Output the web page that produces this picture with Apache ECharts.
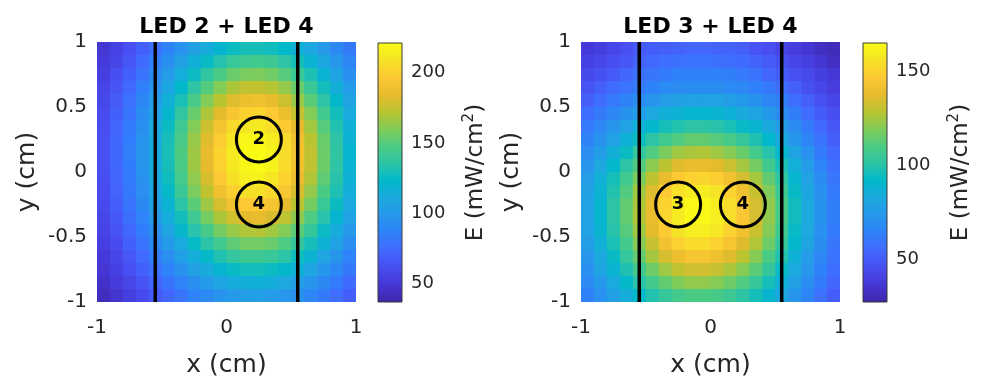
<!DOCTYPE html>
<html>
<head>
<meta charset="utf-8">
<title>LED irradiance maps</title>
<script src="https://cdn.jsdelivr.net/npm/echarts@6/dist/echarts.min.js"></script>
<style>
  html, body { margin: 0; padding: 0; background: #ffffff; }
  #chart { width: 984px; height: 382px; }
</style>
</head>
<body>
<div id="chart"></div>
<script>
// Cell centres (cm) of the irradiance grid
const xCells = [-0.95, -0.85, -0.75, -0.65, -0.55, -0.45, -0.35, -0.25, -0.15, -0.05,
                 0.05,  0.15,  0.25,  0.35,  0.45,  0.55,  0.65,  0.75,  0.85,  0.95];
const yCells = [ 0.95,  0.85,  0.75,  0.65,  0.55,  0.45,  0.35,  0.25,  0.15,  0.05,
                -0.05, -0.15, -0.25, -0.35, -0.45, -0.55, -0.65, -0.75, -0.85, -0.95];

// Irradiance E (mW/cm^2), one row per yCells entry, one column per xCells entry
const fieldLed24 = [
  [49, 55, 62, 70, 78, 87, 96, 105, 113, 120, 126, 129, 129, 127, 123, 116, 109, 100, 91, 82],
  [52, 58, 66, 75, 85, 95, 105, 116, 125, 133, 140, 143, 144, 142, 136, 129, 119, 109, 99, 89],
  [54, 62, 70, 80, 91, 102, 114, 126, 137, 147, 154, 158, 159, 156, 150, 141, 131, 119, 107, 95],
  [57, 65, 74, 85, 97, 109, 123, 136, 149, 160, 169, 174, 174, 171, 164, 154, 141, 128, 115, 102],
  [59, 68, 78, 89, 102, 116, 130, 146, 160, 172, 182, 188, 189, 185, 177, 165, 151, 136, 122, 107],
  [61, 70, 80, 93, 106, 121, 137, 154, 169, 183, 194, 201, 202, 197, 188, 175, 160, 144, 128, 112],
  [62, 72, 83, 95, 110, 126, 143, 160, 177, 192, 204, 211, 212, 207, 197, 184, 167, 150, 132, 116],
  [63, 73, 84, 97, 112, 129, 146, 165, 182, 198, 210, 218, 219, 214, 204, 189, 172, 154, 136, 118],
  [63, 73, 85, 98, 113, 130, 148, 166, 185, 201, 213, 220, 222, 217, 206, 191, 174, 155, 137, 120],
  [63, 73, 84, 98, 113, 129, 147, 166, 184, 200, 212, 219, 221, 216, 205, 190, 173, 155, 136, 119],
  [62, 72, 83, 96, 111, 127, 145, 163, 180, 196, 208, 215, 216, 211, 201, 187, 170, 152, 134, 117],
  [61, 71, 82, 94, 108, 124, 141, 158, 174, 189, 200, 207, 208, 203, 194, 180, 164, 147, 131, 114],
  [60, 69, 80, 91, 105, 119, 135, 151, 166, 180, 190, 196, 197, 193, 184, 172, 157, 141, 126, 111],
  [58, 67, 77, 88, 100, 114, 128, 143, 157, 169, 178, 184, 185, 181, 173, 162, 148, 134, 120, 106],
  [56, 64, 73, 84, 95, 108, 121, 134, 146, 157, 165, 170, 171, 167, 160, 151, 139, 126, 113, 100],
  [54, 61, 70, 79, 90, 101, 112, 124, 135, 144, 152, 156, 156, 154, 148, 139, 129, 117, 106, 94],
  [51, 58, 66, 75, 84, 94, 104, 114, 124, 132, 138, 142, 142, 140, 135, 127, 118, 108, 98, 88],
  [49, 55, 62, 70, 78, 87, 96, 105, 113, 120, 125, 128, 128, 126, 122, 116, 108, 99, 90, 82],
  [46, 52, 58, 65, 72, 80, 88, 95, 102, 108, 113, 115, 116, 114, 110, 105, 98, 91, 83, 75],
  [43, 48, 54, 60, 67, 73, 80, 87, 92, 97, 101, 103, 104, 102, 99, 95, 89, 83, 76, 69]
];

const fieldLed34 = [
  [38, 40, 43, 46, 50, 51, 52, 53, 54, 54, 53, 53, 52, 48, 46, 42, 39, 36, 33, 31],
  [41, 43, 46, 49, 53, 55, 57, 58, 59, 59, 58, 57, 56, 53, 50, 47, 43, 40, 36, 33],
  [44, 47, 50, 54, 58, 60, 62, 64, 64, 64, 64, 63, 61, 59, 54, 51, 47, 44, 40, 37],
  [48, 52, 56, 59, 62, 65, 68, 69, 70, 70, 70, 68, 67, 64, 61, 57, 52, 47, 43, 39],
  [52, 57, 61, 65, 69, 73, 76, 78, 79, 79, 79, 77, 75, 72, 67, 63, 57, 52, 47, 43],
  [57, 62, 67, 72, 77, 82, 86, 88, 90, 90, 89, 87, 84, 80, 75, 69, 63, 56, 51, 46],
  [61, 67, 73, 79, 86, 91, 96, 99, 101, 101, 100, 97, 93, 89, 83, 76, 69, 62, 55, 49],
  [65, 72, 79, 87, 94, 101, 107, 111, 114, 114, 112, 109, 104, 98, 91, 83, 74, 66, 59, 52],
  [69, 77, 86, 94, 103, 111, 118, 124, 126, 127, 124, 120, 115, 108, 100, 90, 80, 71, 62, 55],
  [73, 82, 91, 101, 111, 121, 129, 136, 139, 139, 137, 132, 125, 117, 107, 97, 86, 76, 66, 58],
  [76, 86, 96, 107, 118, 129, 139, 147, 150, 151, 148, 142, 134, 125, 114, 102, 90, 79, 69, 60],
  [78, 88, 99, 111, 124, 136, 147, 155, 159, 159, 156, 150, 141, 131, 119, 106, 93, 81, 71, 62],
  [79, 90, 101, 114, 126, 139, 150, 159, 164, 164, 160, 154, 145, 134, 122, 109, 95, 83, 72, 63],
  [79, 90, 101, 114, 127, 139, 151, 159, 164, 164, 160, 154, 145, 134, 122, 109, 95, 83, 72, 63],
  [79, 89, 100, 112, 124, 137, 147, 156, 160, 160, 157, 150, 142, 132, 120, 107, 93, 82, 71, 62],
  [77, 86, 97, 108, 120, 131, 142, 149, 153, 153, 150, 144, 136, 127, 116, 104, 91, 80, 70, 60],
  [74, 83, 93, 104, 114, 125, 134, 140, 144, 144, 141, 136, 129, 120, 110, 99, 87, 76, 67, 59],
  [71, 80, 89, 98, 107, 116, 124, 130, 133, 133, 131, 126, 120, 113, 104, 93, 83, 74, 64, 57],
  [68, 75, 83, 92, 100, 108, 114, 119, 122, 122, 120, 116, 111, 104, 96, 87, 78, 69, 62, 54],
  [64, 71, 78, 85, 92, 99, 104, 108, 110, 110, 109, 106, 101, 96, 89, 81, 73, 66, 58, 51]
];

// Panel titles, LED markers and electrode edges
const titleLed24 = 'LED 2 + LED 4';
const titleLed34 = 'LED 3 + LED 4';
const ledIds24 = ['2', '4'];
const ledX24 = [0.25, 0.25];
const ledY24 = [0.25, -0.25];
const ledIds34 = ['3', '4'];
const ledX34 = [-0.25, 0.25];
const ledY34 = [-0.25, -0.25];
const edgeX = [-0.55, 0.55];

// Axis and colour-bar scales
const axisExtent = [-1, 1];
const xTickStep = 1;
const yTickStep = 0.5;
const colorRange24 = [37, 221];
const colorRange34 = [27.5, 165];
const colorTicks24 = [50, 100, 150, 200];
const colorTicks34 = [50, 100, 150];

// Parula colour map, low to high
const parula = ['#3E26A8', '#4537D5', '#484DF0', '#4269FE', '#2F81FA', '#2796EB',
                '#1CA9DF', '#01B8CA', '#2CC4A7', '#4ACB84', '#81CC59', '#B9C431',
                '#E6BB2D', '#FEC934', '#F5E327', '#F9FB15'];

const FONT = 'DejaVu Sans';
const INK = '#262626';

const panels = [
  {
    title: titleLed24, field: fieldLed24, range: colorRange24, ticks: colorTicks24,
    ids: ledIds24, lx: ledX24, ly: ledY24,
    plot: { left: 97, top: 42, width: 259, height: 260 },
    bar: { left: 378, top: 43, width: 24, height: 259 }
  },
  {
    title: titleLed34, field: fieldLed34, range: colorRange34, ticks: colorTicks34,
    ids: ledIds34, lx: ledX34, ly: ledY34,
    plot: { left: 581, top: 42, width: 259, height: 260 },
    bar: { left: 863, top: 43, width: 24, height: 259 }
  }
];

const halfCell = (xCells[1] - xCells[0]) / 2;

function renderCell(params, api) {
  const x = api.value(0);
  const y = api.value(1);
  const a = api.coord([x - halfCell, y + halfCell]);
  const b = api.coord([x + halfCell, y - halfCell]);
  return {
    type: 'rect',
    shape: { x: a[0], y: a[1], width: b[0] - a[0] + 0.7, height: b[1] - a[1] + 0.7 },
    style: { fill: api.visual('color') },
    silent: true
  };
}

function renderBar(params, api) {
  const top = api.coord([0, api.value(1)]);
  const bottom = api.coord([1, api.value(0)]);
  const stops = parula.map((c, i) => ({ offset: i / (parula.length - 1), color: c }));
  return {
    type: 'rect',
    shape: { x: top[0], y: top[1], width: bottom[0] - top[0], height: bottom[1] - top[1] },
    style: {
      fill: new echarts.graphic.LinearGradient(0, 1, 0, 0, stops),
      stroke: '#3a3a3a',
      lineWidth: 1
    },
    silent: true
  };
}

const grid = [], xAxis = [], yAxis = [], series = [], visualMap = [], title = [];

panels.forEach((p) => {
  const gMain = grid.length;
  grid.push(Object.assign({ outerBoundsMode: 'none', containLabel: false }, p.plot));
  const gBar = grid.length;
  grid.push(Object.assign({ outerBoundsMode: 'none', containLabel: false }, p.bar));

  title.push({
    text: p.title,
    left: p.plot.left + p.plot.width / 2,
    top: 16,
    textAlign: 'center',
    padding: 0,
    textStyle: { fontFamily: FONT, fontSize: 22, fontWeight: 'bold', color: '#000' }
  });

  const xMain = xAxis.length;
  xAxis.push({
    gridIndex: gMain, type: 'value', min: axisExtent[0], max: axisExtent[1], interval: xTickStep,
    axisLine: { show: false, onZero: false }, axisTick: { show: false }, splitLine: { show: false },
    axisLabel: { fontFamily: FONT, fontSize: 20, color: INK, margin: 16 },
    name: 'x (cm)', nameLocation: 'middle', nameGap: 51,
    nameTextStyle: { fontFamily: FONT, fontSize: 25, color: INK }
  });
  const yMain = yAxis.length;
  yAxis.push({
    gridIndex: gMain, type: 'value', min: axisExtent[0], max: axisExtent[1], interval: yTickStep,
    axisLine: { show: false, onZero: false }, axisTick: { show: false }, splitLine: { show: false },
    axisLabel: { fontFamily: FONT, fontSize: 20, color: INK, margin: 10 },
    name: 'y (cm)', nameLocation: 'middle', nameRotate: 90, nameGap: 57,
    nameTextStyle: { fontFamily: FONT, fontSize: 25, color: INK }
  });

  const xBar = xAxis.length;
  xAxis.push({ gridIndex: gBar, type: 'value', min: 0, max: 1, show: false });
  const yBar = yAxis.length;
  yAxis.push({
    gridIndex: gBar, type: 'value', min: p.range[0], max: p.range[1], position: 'right',
    axisLine: { show: false, onZero: false }, splitLine: { show: false },
    axisTick: { show: true, inside: true, length: 4, customValues: p.ticks, lineStyle: { color: INK, width: 1 } },
    axisLabel: { fontFamily: FONT, fontSize: 18, color: INK, margin: 9, customValues: p.ticks },
    name: '{a|E (mW/cm}{s|2}{a|)}', nameLocation: 'middle', nameRotate: 90, nameGap: 60,
    nameTextStyle: {
      fontFamily: FONT, color: INK,
      rich: {
        a: { fontFamily: FONT, fontSize: 23, color: INK, lineHeight: 28 },
        s: { fontFamily: FONT, fontSize: 15, color: INK, lineHeight: 14, verticalAlign: 'top' }
      }
    }
  });

  // Irradiance map
  const cells = [];
  p.field.forEach((row, r) => row.forEach((v, c) => cells.push([xCells[c], yCells[r], v])));
  const heatIndex = series.length;
  series.push({
    type: 'custom', xAxisIndex: xMain, yAxisIndex: yMain,
    dimensions: ['x', 'y', 'E'], encode: { x: 0, y: 1 },
    renderItem: renderCell, data: cells, clip: true, silent: true, z: 1
  });
  visualMap.push({
    type: 'continuous', show: false, seriesIndex: heatIndex, dimension: 2,
    min: p.range[0], max: p.range[1], inRange: { color: parula }
  });

  // Colour bar
  series.push({
    type: 'custom', xAxisIndex: xBar, yAxisIndex: yBar,
    renderItem: renderBar, data: [[p.range[0], p.range[1]]], silent: true, z: 1
  });

  // Electrode edges
  edgeX.forEach((ex) => {
    series.push({
      type: 'line', xAxisIndex: xMain, yAxisIndex: yMain,
      data: [[ex, axisExtent[0]], [ex, axisExtent[1]]],
      symbol: 'none', silent: true, z: 3, clip: true,
      lineStyle: { color: '#000', width: 3.5 }
    });
  });

  // LED positions
  series.push({
    type: 'scatter', xAxisIndex: xMain, yAxisIndex: yMain,
    data: p.ids.map((id, i) => ({ name: id, value: [p.lx[i], p.ly[i]] })),
    symbol: 'circle', symbolSize: 45, silent: true, z: 4,
    itemStyle: { color: 'rgba(0,0,0,0)', borderColor: '#000', borderWidth: 3, opacity: 1 },
    label: {
      show: true, position: 'inside', formatter: '{b}',
      fontFamily: FONT, fontSize: 18, fontWeight: 'bold', color: '#000'
    },
    emphasis: { disabled: true }
  });
});

const chart = echarts.init(document.getElementById('chart'), null, { renderer: 'canvas' });
chart.setOption({
  animation: false,
  backgroundColor: '#ffffff',
  textStyle: { fontFamily: FONT },
  title, grid, xAxis, yAxis, visualMap, series
});
</script>
</body>
</html>
